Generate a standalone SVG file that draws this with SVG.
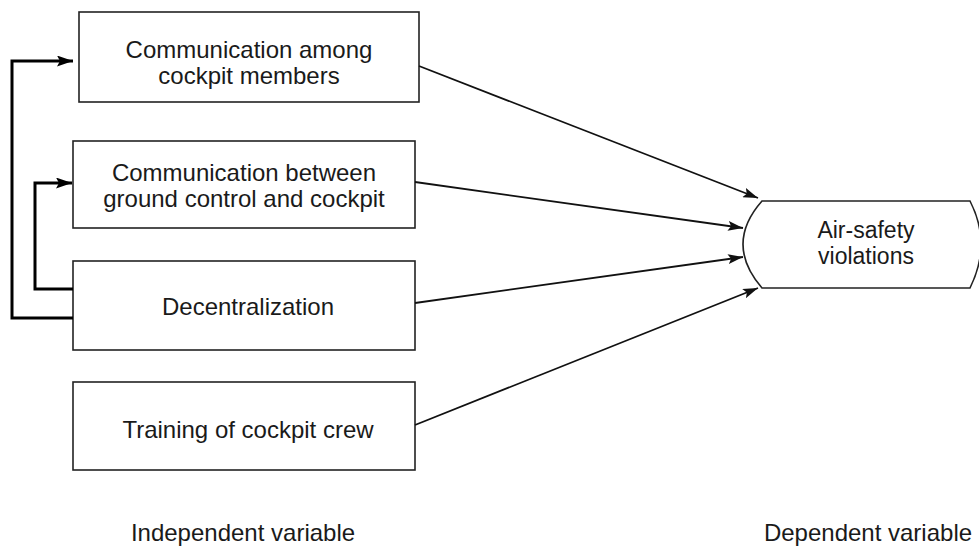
<svg xmlns="http://www.w3.org/2000/svg" width="979" height="546" viewBox="0 0 979 546">
<defs>
<style>
.box{fill:#fff;stroke:#222;stroke-width:1.6}
.t{font-family:"Liberation Sans",Arial,sans-serif;font-size:24px;fill:#1a1a1a;text-anchor:middle}
.s{font-size:23px}
.c{fill:none;stroke:#111;stroke-width:1.8}
.fb{fill:none;stroke:#000;stroke-width:3}
</style>
<marker id="ah" viewBox="0 0 15 10" refX="15" refY="5" markerWidth="15" markerHeight="10" markerUnits="userSpaceOnUse" orient="auto">
<path d="M0,0 L15,5 L0,10 L3,5 Z" fill="#111"/>
</marker>
<marker id="ahb" viewBox="0 0 16 11" refX="16" refY="5.5" markerWidth="16" markerHeight="11" markerUnits="userSpaceOnUse" orient="auto">
<path d="M0,0 L16,5.5 L0,11 L3,5.5 Z" fill="#000"/>
</marker>
</defs>
<g id="n1">
<rect class="box" x="79" y="12" width="340" height="90"/>
<text class="t" x="249" y="58">Communication among</text>
<text class="t" x="249" y="84">cockpit members</text>
</g>
<g id="n2">
<rect class="box" x="73" y="141" width="342" height="87"/>
<text class="t" x="244" y="181">Communication between</text>
<text class="t" x="244" y="207">ground control and cockpit</text>
</g>
<g id="n3">
<rect class="box" x="73" y="261" width="342" height="89"/>
<text class="t" x="248" y="315">Decentralization</text>
</g>
<g id="n4">
<rect class="box" x="73" y="382" width="342" height="88"/>
<text class="t" x="248" y="438">Training of cockpit crew</text>
</g>
<g id="n5">
<path class="box" d="M762,201 L970,201 Q992,244 970,288 L762,288 Q724,244 762,201 Z"/>
<text class="t s" x="866" y="238">Air-safety</text>
<text class="t s" x="866" y="264">violations</text>
</g>
<g id="connectors">
<path class="fb" d="M73,318 L12,318 L12,61 L73,61" marker-end="url(#ahb)"/>
<path class="fb" d="M73,289 L35,289 L35,183 L72,183" marker-end="url(#ahb)"/>
<line class="c" x1="419" y1="66" x2="758" y2="198" marker-end="url(#ah)"/>
<line class="c" x1="415" y1="182" x2="743" y2="228" marker-end="url(#ah)"/>
<line class="c" x1="415" y1="303" x2="743" y2="257" marker-end="url(#ah)"/>
<line class="c" x1="415" y1="425" x2="758" y2="288" marker-end="url(#ah)"/>
</g>
<g id="labels">
<text class="t" x="243" y="541">Independent variable</text>
<text class="t" x="868" y="541">Dependent variable</text>
</g>
</svg>
